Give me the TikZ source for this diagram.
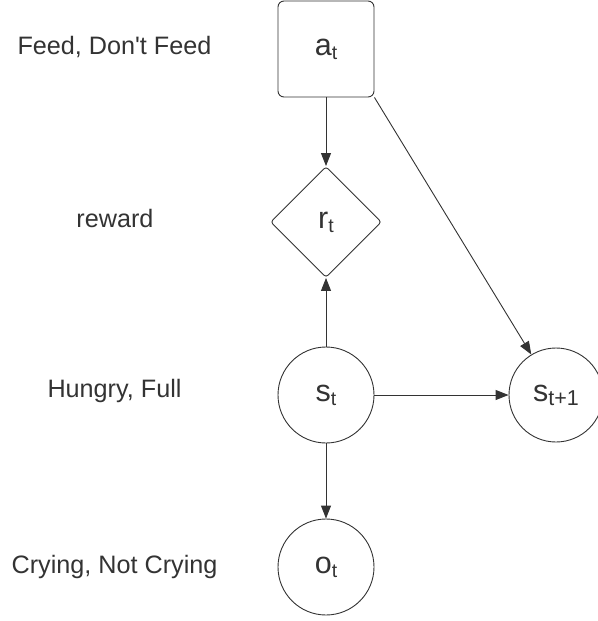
\documentclass[tikz,border=0pt]{standalone}
\usepackage{fontspec}
\setmainfont{Liberation Sans}[Ligatures=TeXOff]
\usepackage{tikz}
\usetikzlibrary{arrows.meta, shapes.geometric}

\definecolor{ink}{HTML}{333333}
\newcommand{\lowtxt}[2][19.5]{\raisebox{-4pt}{\fontsize{#1}{#1}\selectfont #2}}

\tikzset{
  varbox/.style={draw=ink, line width=0.9pt, text=ink, inner sep=0pt, font=\fontsize{30.5}{33}\selectfont},
  sidelabel/.style={text=ink, font=\fontsize{25.2}{28}\selectfont},
  link/.style={draw=ink, line width=0.9pt, -{Triangle[length=13pt,width=10pt]}}
}

\begin{document}
\begin{tikzpicture}[x=1pt, y=-1pt]
          \useasboundingbox (0,0) rectangle (597,621); % page size

          \node [varbox, rectangle, rounded corners=6pt, minimum size=96pt] (at) at (326,49) {a\lowtxt{t}};
          \node [varbox, diamond, rounded corners=3pt, minimum size=111pt, aspect=1] (rt) at (326,222) {r\lowtxt{t}};
          \node [varbox, circle, minimum size=96pt] (st) at (326,395) {s\lowtxt{t}};
          \node [varbox, circle, minimum size=94pt] (st1) at (556,395) {s\lowtxt[21.5]{t+1}};
          \node [varbox, circle, minimum size=96pt] (ot) at (326,567) {o\lowtxt{t}};

          \node [sidelabel] (actlbl) at (114.5,47) {Feed, Don't Feed};
          \node [sidelabel] (rewlbl) at (115,218) {reward};
          \node [sidelabel] (statelbl) at (114.5,391) {Hungry, Full};
          \node [sidelabel] (obslbl) at (114.5,567) {Crying, Not Crying};

          \draw [link] (at) -- (rt);
          \draw [link] (st) -- (rt);
          \draw [link] (at.south east) -- (st1);
          \draw [link] (st) -- (st1);
          \draw [link] (st) -- (ot);
        \end{tikzpicture}
\end{document}
